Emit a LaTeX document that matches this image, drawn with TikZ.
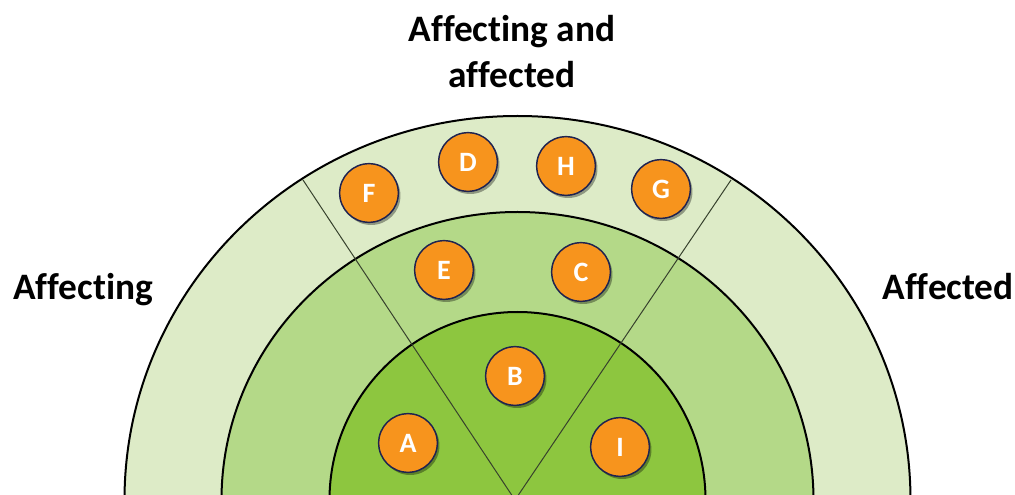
\documentclass[tikz,border=0pt]{standalone}
\usepackage{fontspec}
\setmainfont[Ligatures=NoCommon]{Carlito}
\usetikzlibrary{shadows}
\definecolor{ringout}{RGB}{221,235,199}
\definecolor{ringmid}{RGB}{180,217,136}
\definecolor{ringin}{RGB}{141,198,63}
\definecolor{dotorange}{RGB}{247,148,29}
\definecolor{dotedge}{RGB}{31,35,80}
\definecolor{sectorline}{RGB}{55,65,45}
\tikzset{
  ring/.style={draw=black,line width=1.5pt},
  sector/.style={draw=sectorline,line width=0.75pt},
  dot/.style={circle,minimum size=44pt,inner sep=0pt,fill=dotorange,draw=dotedge,line width=1.1pt,
    text=white,font=\fontsize{21}{24}\selectfont\bfseries,
    drop shadow={shadow xshift=1.6pt,shadow yshift=-2pt,opacity=0.35,fill=black}},
  zonelabel/.style={font=\fontsize{28}{34.5}\selectfont\bfseries,text=black,inner sep=0pt}
}
\begin{document}
\begin{tikzpicture}[x=0.75pt,y=-0.75pt]
\useasboundingbox (0,0) rectangle (1015,495);
\begin{scope}
\clip (0,0) rectangle (1015,495);
\coordinate (o) at (515,500);
\coordinate (pl) at (303,180);
\coordinate (pr) at (731,180);
\fill[white] (0,0) rectangle (1015,495);
\draw[ring,fill=ringout] (517.5,500) ellipse [x radius=294.75pt, y radius=288pt];
\draw[ring,fill=ringmid] (517.5,500) ellipse [x radius=222pt, y radius=216pt];
\draw[ring,fill=ringin] (517.5,500) ellipse [x radius=141pt, y radius=141pt];
\draw[sector] (o) -- (pl);
\draw[sector] (o) -- (pr);
\end{scope}
\node[dot] (F) at (369,193) {F};
\node[dot] (D) at (468,162) {D};
\node[dot] (H) at (566,166) {H};
\node[dot] (G) at (661,189) {G};
\node[dot] (E) at (444,270) {E};
\node[dot] (C) at (581,272) {C};
\node[dot] (B) at (515,376) {B};
\node[dot] (A) at (408,443) {A};
\node[dot] (I) at (620,447) {I};
\node[zonelabel,anchor=base west] (affecting) at (13,300) {Affecting};
\node[zonelabel,anchor=base east] (affected) at (1014,300) {Affected};
\node[zonelabel,anchor=base] (both1) at (512,42) {Affecting and};
\node[zonelabel,anchor=base] (both2) at (512,88) {affected};
\end{tikzpicture}
\end{document}
